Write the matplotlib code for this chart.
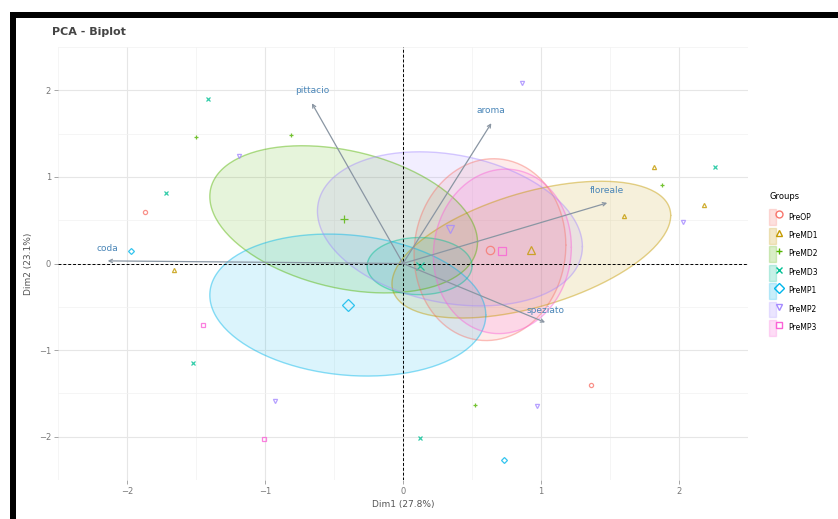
import numpy as np
import matplotlib
matplotlib.use("Agg")
import matplotlib.pyplot as plt
from matplotlib.lines import Line2D
from matplotlib.patches import Patch, Rectangle
from matplotlib.legend_handler import HandlerTuple

# groups, colours and point shapes (ggplot hue palette)
groups = ["PreOP", "PreMD1", "PreMD2", "PreMD3", "PreMP1", "PreMP2", "PreMP3"]
colors = ["#F8766D", "#C49A00", "#53B400", "#00C094", "#00B6EB", "#A58AFF", "#FB61D7"]
shapes = ["o", "^", "+", "x", "D", "v", "s"]

# confidence ellipses: centre, half width, half height, correlation
ell_cx = [0.63, 0.93, -0.43, 0.12, -0.40, 0.34, 0.72]
ell_cy = [0.16, 0.16, 0.51, -0.03, -0.48, 0.40, 0.14]
ell_hw = [0.55, 1.01, 0.97, 0.38, 1.00, 0.96, 0.50]
ell_hh = [1.05, 0.79, 0.85, 0.33, 0.82, 0.89, 0.95]
ell_r = [0.05, 0.50, -0.31, 0.0, -0.14, -0.23, 0.05]

# individuals
ind_x = [-1.41, -1.50, -1.19, -0.81, -1.72, -1.87, -1.97, -1.66, -1.45, -1.52, -0.93, -1.01,
         0.12, 0.52, 0.97, 0.73, 1.36, 0.86, 1.82, 2.26, 1.88, 2.18, 2.03, 1.60]
ind_y = [1.90, 1.46, 1.24, 1.48, 0.81, 0.60, 0.15, -0.08, -0.71, -1.15, -1.59, -2.03,
         -2.02, -1.63, -1.65, -2.27, -1.40, 2.08, 1.12, 1.12, 0.91, 0.68, 0.48, 0.55]
ind_g = [3, 2, 5, 2, 3, 0, 4, 1, 6, 3, 5, 6,
         3, 2, 5, 4, 0, 5, 1, 3, 2, 1, 5, 1]

# variables (arrows)
var_names = ["pittacio", "aroma", "floreale", "speziato", "coda"]
var_x = [-0.66, 0.64, 1.48, 1.03, -2.14]
var_y = [1.85, 1.62, 0.70, -0.68, 0.03]

fig = plt.figure(figsize=(8.38, 5.19), dpi=100)
ax = fig.add_axes([58 / 838, 39 / 519, 690 / 838, 433 / 519])

t = np.linspace(0, 2 * np.pi, 200)
for i, g in enumerate(groups):
    sxy = ell_r[i] * ell_hw[i] * ell_hh[i]
    L = np.linalg.cholesky([[ell_hw[i] ** 2, sxy], [sxy, ell_hh[i] ** 2]])
    pts = L @ np.vstack([np.cos(t), np.sin(t)])
    ex = ell_cx[i] + pts[0]
    ey = ell_cy[i] + pts[1]
    ax.fill(ex, ey, color=colors[i], alpha=0.14, lw=0, zorder=2)
    ax.plot(ex, ey, color=colors[i], alpha=0.45, lw=1.0, zorder=3)
    # group mean
    ax.plot(ell_cx[i], ell_cy[i], marker=shapes[i], ms=6, mfc="none",
            mec=colors[i], mew=0.9, ls="", alpha=0.8, zorder=5)

for x, y, g in zip(ind_x, ind_y, ind_g):
    ax.plot(x, y, marker=shapes[g], ms=3, mfc="none", mec=colors[g],
            mew=0.9, ls="", alpha=0.8, zorder=4)

ax.axhline(0, color="black", lw=0.7, ls=(0, (3, 2)), zorder=3.5)
ax.axvline(0, color="black", lw=0.7, ls=(0, (3, 2)), zorder=3.5)

for name, x, y in zip(var_names, var_x, var_y):
    ax.annotate("", xy=(x, y), xytext=(0, 0),
                arrowprops=dict(arrowstyle="->", color="#8A96A3", lw=0.9,
                                mutation_scale=6, shrinkA=0, shrinkB=0), zorder=6)
    ax.text(x, y + 0.09, name, color="#4A86B8", fontsize=6.5,
            ha="center", va="bottom", zorder=7)

ax.set_xlim(-2.33, 2.47)
ax.set_ylim(-2.47, 2.29)
ax.set_xticks([-2, -1, 0, 1, 2])
ax.set_yticks([-2, -1, 0, 1, 2])
ax.set_xticks(np.arange(-2.5, 2.6, 0.5), minor=True)
ax.set_yticks(np.arange(-2.5, 2.6, 0.5), minor=True)
ax.grid(which="major", color="#E6E6E6", lw=0.8)
ax.grid(which="minor", color="#F2F2F2", lw=0.5)
ax.set_axisbelow(True)
for s in ax.spines.values():
    s.set_visible(False)
ax.tick_params(which="major", length=3, width=0.6, color="#999999",
               labelsize=6, labelcolor="#777777", pad=2)
ax.tick_params(which="minor", length=0)

ax.set_xlabel("Dim1 (27.8%)", fontsize=6.5, color="#555555", labelpad=3)
ax.set_ylabel("Dim2 (23.1%)", fontsize=6.5, color="#555555", labelpad=4)

fig.text(52 / 838, 1 - 32 / 519, "PCA - Biplot", fontsize=8, fontweight="bold",
         color="#444444", va="center")

handles = [(Patch(facecolor=c, alpha=0.22, edgecolor=c),
            Line2D([], [], marker=m, color=c, mfc="none", ls="", ms=5))
           for c, m in zip(colors, shapes)]
leg = fig.legend(handles, groups, title="Groups", loc="upper left",
                 bbox_to_anchor=(766 / 838, 1 - 189 / 519), frameon=False,
                 fontsize=5.5, title_fontsize=6, handlelength=1.8, handleheight=2.8,
                 labelspacing=0.35, handletextpad=0.7, borderaxespad=0,
                 handler_map={tuple: HandlerTuple(ndivide=None, pad=0)})
leg._legend_box.align = "left"
leg._legend_box.sep = 6

# black frame of the screenshot (left and top)
fig.add_artist(Rectangle((10 / 838, 0), 6 / 838, 1 - 12 / 519,
                         transform=fig.transFigure, color="black", lw=0))
fig.add_artist(Rectangle((10 / 838, 1 - 18 / 519), 1, 6 / 519,
                         transform=fig.transFigure, color="black", lw=0))

fig.savefig("out.png", dpi=100)
